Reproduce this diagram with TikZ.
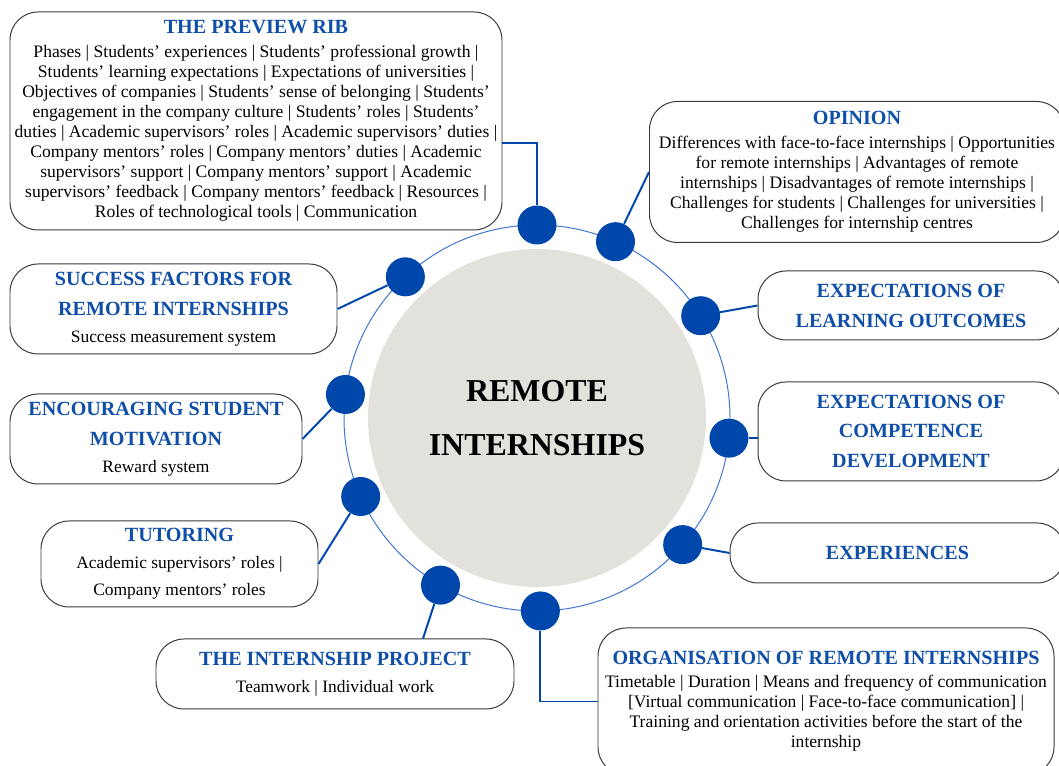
\documentclass[tikz,border=0pt]{standalone}
\usepackage{fontspec}
\setmainfont{Liberation Serif}
\usetikzlibrary{calc}

\definecolor{hubgrey}{HTML}{E3E1DC}
\definecolor{dotblue}{HTML}{0047AB}
\definecolor{ringblue}{HTML}{3F74D2}
\definecolor{titleblue}{HTML}{0F4FA8}
\definecolor{boxline}{HTML}{3A3A3A}

\newcommand{\pxlen}{0.025cm}
\newcommand{\topicfont}{\color{titleblue}\bfseries\fontsize{14.3}{21.3}\selectfont}
\newcommand{\shortbody}{\fontsize{12.4}{19.2}\selectfont}
\newcommand{\longbody}{\fontsize{12.5}{14.2}\selectfont}

\tikzset{
  topic/.style 2 args={draw=boxline, line width=0.7pt, fill=white, rounded corners=0.7cm,
    minimum width=#1*\pxlen, minimum height=#2*\pxlen, inner sep=0pt, align=center},
  hub/.style={circle, fill=hubgrey, minimum size=338*\pxlen, inner sep=0pt, align=center,
    font=\bfseries\fontsize{22.7}{38}\selectfont},
  hubdot/.style={circle, fill=dotblue, minimum size=39*\pxlen, inner sep=0pt},
  link/.style={draw=dotblue, line width=1.4pt},
}

\begin{document}
\begin{tikzpicture}[x=\pxlen, y=\pxlen]
  \clip (0,0) rectangle (1059,766);

  % centre and ring of dots
  \node[hub] (hub) at (537,348) {REMOTE\\INTERNSHIPS};
  \draw[ringblue, line width=0.7pt] (hub.center) circle (193);
  \foreach \ang [count=\i] in {90,66,32,-6,-41,-89,-120,-156,173,133}
    \node[hubdot] (d\i) at ($(hub.center)+(\ang:193)$) {};

  % topics
  \node[topic={492}{218}, font=\longbody] (rib) at (256,645) {%
    {\topicfont THE PREVIEW RIB}\\[3pt]
    Phases | Students' experiences | Students' professional growth |\\
    Students' learning expectations | Expectations of universities |\\
    Objectives of companies | Students' sense of belonging | Students'\\
    engagement in the company culture | Students' roles | Students'\\
    duties | Academic supervisors' roles | Academic supervisors' duties |\\
    Company mentors' roles | Company mentors' duties | Academic\\
    supervisors' support | Company mentors' support | Academic\\
    supervisors' feedback | Company mentors' feedback | Resources |\\
    Roles of technological tools | Communication};
  \node[topic={415}{141}, font=\longbody] (opinion) at (857,594) {%
    {\topicfont OPINION}\\[3pt]
    Differences with face-to-face internships | Opportunities\\
    for remote internships | Advantages of remote\\
    internships | Disadvantages of remote internships |\\
    Challenges for students | Challenges for universities |\\
    Challenges for internship centres};
  \node[topic={306}{69}, font=\topicfont] (learning) at (911,460.5)
    {EXPECTATIONS OF\\LEARNING OUTCOMES};
  \node[topic={306}{99}, font=\topicfont] (competence) at (911,334.5)
    {EXPECTATIONS OF\\COMPETENCE\\DEVELOPMENT};
  \node[topic={335}{60}, font=\topicfont] (experiences) at (897.5,213) {EXPERIENCES};
  \node[topic={456}{147}, font=\longbody] (organisation) at (826,64.5) {%
    {\topicfont ORGANISATION OF REMOTE INTERNSHIPS}\\[2pt]
    Timetable | Duration | Means and frequency of communication\\
    {[}Virtual communication | Face-to-face communication] |\\
    Training and orientation activities before the start of the\\
    internship};
  \node[topic={358}{70}, font=\shortbody] (project) at (335,92) {%
    {\topicfont THE INTERNSHIP PROJECT}\\
    Teamwork | Individual work};
  \node[topic={277}{86}, font=\shortbody] (tutoring) at (179.5,202) {%
    {\topicfont TUTORING}\\
    Academic supervisors' roles |\\
    Company mentors' roles};
  \node[topic={292}{90}, font=\shortbody] (motivation) at (156,327) {%
    {\topicfont ENCOURAGING STUDENT}\\[2pt]
    {\topicfont MOTIVATION}\\
    Reward system};
  \node[topic={327}{90}, font=\shortbody] (success) at (173.5,457) {%
    {\topicfont SUCCESS FACTORS FOR}\\[2pt]
    {\topicfont REMOTE INTERNSHIPS}\\
    Success measurement system};

  % links from the ring
  \draw[link] ([yshift=-22*\pxlen]rib.east) -| (d1);
  \draw[link] (d2) -- (opinion.west);
  \draw[link] (d3) -- (learning.west);
  \draw[link] (d4) -- (d4 -| competence.west);
  \draw[link] (d5) -- (experiences.west);
  \draw[link] (d6) |- (organisation.west);
  \draw[link] (d7) -- ([xshift=88*\pxlen]project.north);
  \draw[link] (d8) -- (tutoring.east);
  \draw[link] (d9) -- (motivation.east);
  \draw[link] (d10) -- (success.east);
\end{tikzpicture}
\end{document}
